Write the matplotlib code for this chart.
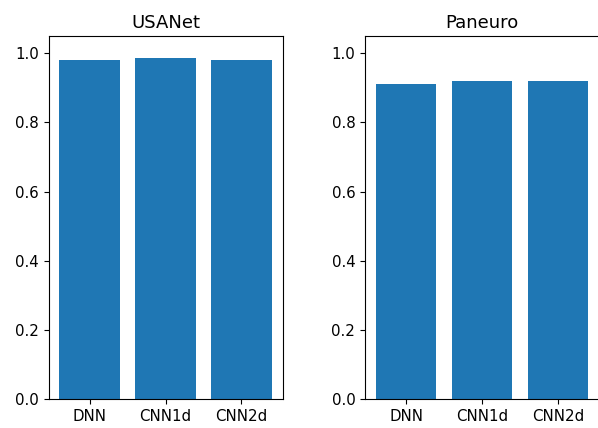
import matplotlib.pyplot as plt

models = ["DNN", "CNN1d", "CNN2d"]
usanet_acc = [0.982, 0.986, 0.982]
paneuro_acc = [0.912, 0.920, 0.920]

plt.rcParams["font.size"] = 10.8

fig = plt.figure(figsize=(5.98, 4.28), dpi=100)
ax1 = fig.add_axes([48.5 / 598, 29 / 428, 234 / 598, 363 / 428])
ax2 = fig.add_axes([365 / 598, 29 / 428, 234 / 598, 363 / 428])

ax1.bar(models, usanet_acc)
ax1.set_title("USANet")
ax2.bar(models, paneuro_acc)
ax2.set_title("Paneuro")

for ax in (ax1, ax2):
    ax.set_ylim(0, 1.05)

fig.savefig("out.png", dpi=100)
